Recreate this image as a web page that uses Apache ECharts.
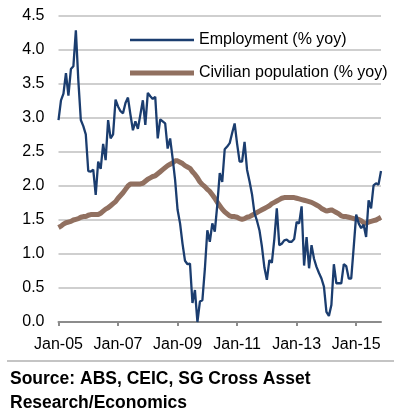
<!DOCTYPE html>
<html>
<head>
<meta charset="utf-8">
<script src="https://cdn.jsdelivr.net/npm/echarts@6/dist/echarts.min.js"></script>
<style>
html,body{margin:0;padding:0;background:#fff;}
#c{width:394px;height:420px;}
</style>
</head>
<body>
<div id="c"></div>
<script>
// Monthly, Jan-05 .. Nov-15
var startYear = 2005, startMonth = 0, monthCount = 131;
var monthNames = ['Jan','Feb','Mar','Apr','May','Jun','Jul','Aug','Sep','Oct','Nov','Dec'];
var tickLabels = ['Jan-05','Jan-07','Jan-09','Jan-11','Jan-13','Jan-15'];
var yTicks = [0,0.5,1,1.5,2,2.5,3,3.5,4,4.5];

var employment = [
 2.97,3.26,3.36,3.66,3.33,3.72,3.76,4.29,3.55,2.97,
 2.88,2.76,2.22,2.21,2.24,1.87,2.36,2.25,2.62,2.38,
 2.97,2.70,2.76,3.27,3.17,3.10,3.07,3.22,3.30,3.05,
 2.82,2.95,2.84,3.05,3.26,2.90,3.37,3.32,3.28,3.31,
 2.70,2.98,2.95,2.92,2.55,2.70,2.41,2.09,1.65,1.45,
 1.15,0.90,0.85,0.86,0.28,0.47,0.00,0.30,0.32,0.78,
 1.35,1.18,1.45,1.33,1.72,2.19,2.06,2.54,2.58,2.63,
 2.78,2.92,2.62,2.36,2.36,2.65,2.24,2.07,1.88,1.60,
 1.49,1.35,1.11,0.80,0.62,0.91,0.87,1.22,1.67,1.13,
 1.15,1.20,1.21,1.18,1.18,1.22,1.47,1.45,1.70,0.83,
 1.25,0.79,1.13,0.93,0.81,0.72,0.64,0.52,0.15,0.09,
 0.25,0.85,0.57,0.57,0.57,0.85,0.82,0.64,0.64,1.10,
 1.58,1.45,1.38,1.43,1.25,1.79,1.67,2.01,2.04,2.02,
 2.22
];

var population = [
 1.39,1.41,1.44,1.46,1.47,1.48,1.50,1.51,1.52,1.54,
 1.55,1.55,1.57,1.58,1.58,1.58,1.58,1.60,1.63,1.66,
 1.68,1.71,1.74,1.77,1.82,1.86,1.90,1.95,2.00,2.03,
 2.03,2.03,2.03,2.03,2.04,2.07,2.10,2.12,2.14,2.15,
 2.18,2.21,2.24,2.27,2.30,2.32,2.34,2.37,2.37,2.35,
 2.33,2.30,2.28,2.26,2.21,2.17,2.12,2.06,2.02,1.99,
 1.95,1.92,1.87,1.82,1.76,1.71,1.66,1.62,1.59,1.56,
 1.55,1.55,1.54,1.52,1.51,1.52,1.54,1.55,1.57,1.59,
 1.61,1.63,1.65,1.67,1.69,1.71,1.74,1.76,1.78,1.80,
 1.82,1.83,1.83,1.83,1.83,1.83,1.82,1.81,1.80,1.79,
 1.78,1.77,1.76,1.74,1.72,1.70,1.67,1.65,1.63,1.64,
 1.65,1.63,1.61,1.59,1.56,1.55,1.55,1.54,1.53,1.52,
 1.52,1.51,1.49,1.46,1.45,1.47,1.48,1.49,1.50,1.52,
 1.54
];

var seriesNames = ['Employment (% yoy)', 'Civilian population (% yoy)'];
var sourceLines = ['Source: ABS, CEIC, SG Cross Asset', 'Research/Economics'];

var categories = [];
for (var i = 0; i < monthCount; i++) {
  var mi = (startMonth + i) % 12;
  var yr = startYear + Math.floor((startMonth + i) / 12);
  categories.push(monthNames[mi] + '-' + String(yr % 100).padStart(2, '0'));
}

var font = '"Liberation Sans", Arial, Helvetica, sans-serif';
var blue = '#1b3d6f', brown = '#917060';
var chart = echarts.init(document.getElementById('c'), null, {renderer: 'canvas'});

chart.setOption({
  animation: false,
  backgroundColor: '#ffffff',
  grid: {left: 58.5, right: 13, top: 16, bottom: 98, containLabel: false},
  legend: {
    orient: 'vertical',
    left: 125,
    top: 27,
    itemWidth: 64,
    itemHeight: 16,
    itemGap: 17,
    symbolKeepAspect: true,
    textStyle: {fontFamily: font, fontSize: 16, color: '#000'},
    data: [
      {name: seriesNames[0], icon: 'path://M0,0H640V24H0Z', itemStyle: {color: blue}},
      {name: seriesNames[1], icon: 'path://M0,0H640V52H0Z', itemStyle: {color: brown}}
    ]
  },
  xAxis: {
    type: 'category',
    data: categories,
    boundaryGap: false,
    axisLine: {lineStyle: {color: '#8c8c8c', width: 2}},
    axisTick: {
      show: true, length: 4, lineStyle: {color: '#8c8c8c', width: 2},
      interval: function (idx, val) { return tickLabels.indexOf(val) >= 0; }
    },
    axisLabel: {
      fontFamily: font, fontSize: 16, color: '#000', margin: 15,
      interval: function (idx, val) { return tickLabels.indexOf(val) >= 0; }
    },
    splitLine: {show: false}
  },
  yAxis: {
    type: 'value',
    min: yTicks[0],
    max: yTicks[yTicks.length - 1],
    interval: 0.5,
    axisLine: {show: false},
    axisTick: {show: false},
    axisLabel: {
      fontFamily: font, fontSize: 16, color: '#000', margin: 14,
      formatter: function (v) { return v.toFixed(1); }
    },
    splitLine: {lineStyle: {color: '#cfcfcf', width: 2}}
  },
  series: [
    {
      name: seriesNames[1],
      type: 'line',
      data: population,
      symbol: 'none',
      z: 2,
      lineStyle: {color: brown, width: 5},
      itemStyle: {color: brown}
    },
    {
      name: seriesNames[0],
      type: 'line',
      data: employment,
      symbol: 'none',
      z: 3,
      lineStyle: {color: blue, width: 2.3},
      itemStyle: {color: blue}
    }
  ],
  graphic: [
    {type: 'line', shape: {x1: 7, y1: 361, x2: 394, y2: 361}, style: {stroke: '#8a8a8a', lineWidth: 1.2}},
    {type: 'text', left: 10, top: 370, style: {text: sourceLines[0], font: 'bold 17.5px ' + font, fill: '#000'}},
    {type: 'text', left: 10, top: 394, style: {text: sourceLines[1], font: 'bold 17.5px ' + font, fill: '#000'}}
  ]
});
</script>
</body>
</html>
